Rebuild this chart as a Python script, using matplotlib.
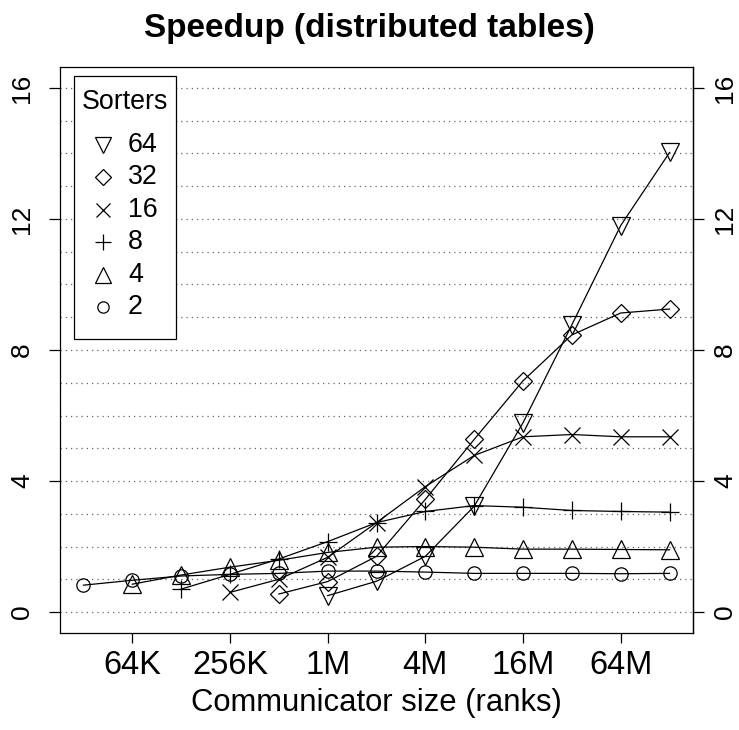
import numpy as np
import matplotlib
matplotlib.use("Agg")
import matplotlib.pyplot as plt
from matplotlib.patches import Rectangle

plt.rcParams['font.family'] = ['Liberation Sans', 'DejaVu Sans']

# Communicator size, log2 of ranks: 32K .. 128M
sizes_log2 = [15, 16, 17, 18, 19, 20, 21, 22, 23, 24, 25, 26, 27]
tick_log2 = [16, 18, 20, 22, 24, 26]
tick_labels = ["64K", "256K", "1M", "4M", "16M", "64M"]
y_ticks = [0, 4, 8, 12, 16]

sorters = [64, 32, 16, 8, 4, 2]
speedup = {
    2:  [0.82, 0.97, 1.10, 1.15, 1.18, 1.25, 1.25, 1.22, 1.18, 1.18, 1.18, 1.17, 1.18],
    4:  [None, 0.85, 1.13, 1.37, 1.58, 1.82, 1.98, 2.00, 1.98, 1.92, 1.92, 1.91, 1.90],
    8:  [None, None, 0.70, 1.15, 1.62, 2.15, 2.73, 3.07, 3.25, 3.20, 3.10, 3.07, 3.05],
    16: [None, None, None, 0.60, 1.00, 1.67, 2.73, 3.83, 4.78, 5.35, 5.42, 5.35, 5.35],
    32: [None, None, None, None, 0.55, 0.93, 1.70, 3.44, 5.27, 7.06, 8.46, 9.13, 9.25],
    64: [None, None, None, None, None, 0.50, 0.94, 1.70, 3.23, 5.78, 8.77, 11.80, 14.03],
}
markers = {64: 'v', 32: 'D', 16: 'x', 8: '+', 4: '^', 2: 'o'}
msizes = {64: 13, 32: 9.2, 16: 12, 8: 13, 4: 13, 2: 9.6}

W, H = 739, 730
AX_L, AX_R, AX_T, AX_B = 60, 693, 67, 633
fig = plt.figure(figsize=(W/100, H/100), dpi=100)
ax = fig.add_axes([AX_L/W, 1-AX_B/H, (AX_R-AX_L)/W, (AX_B-AX_T)/H])

def axfrac(px, py):
    return (px-AX_L)/(AX_R-AX_L), (AX_B-py)/(AX_B-AX_T)

# dotted grid at every integer
for g in range(0, 17):
    ax.axhline(g, color='#666666', lw=0.9, linestyle=(0, (1, 3.2)), zorder=0)

for s in sorters:
    xs = [x for x, v in zip(sizes_log2, speedup[s]) if v is not None]
    ys = [v for v in speedup[s] if v is not None]
    ax.plot(xs, ys, color='black', lw=0.9, zorder=2)
    ax.plot(xs, ys, linestyle='none', marker=markers[s], ms=msizes[s],
            mfc='none', mec='black', mew=0.9, zorder=3)

ax.set_xlim(14.52, 27.48)
ax.set_ylim(-0.64, 16.64)
ax.set_xticks(tick_log2)
ax.set_xticklabels(tick_labels)
ax.set_yticks(y_ticks)
ax.tick_params(axis='x', direction='out', length=7.5, width=0.9, labelsize=23.5, pad=5)
ax.tick_params(axis='y', direction='out', length=8, width=0.9, labelsize=19,
               labelrotation=90, pad=10.5)
for lab in ax.get_yticklabels():
    lab.set_va('center')

sec = ax.secondary_yaxis('right')
sec.set_yticks(y_ticks)
sec.tick_params(axis='y', direction='out', length=8, width=0.9, labelsize=19,
                labelrotation=90, pad=6.5)
for lab in sec.get_yticklabels():
    lab.set_va('center')
sec.spines['right'].set_linewidth(0.9)
for sp in ax.spines.values():
    sp.set_linewidth(0.9)

ax.set_xlabel("Communicator size (ranks)", fontsize=22.3, labelpad=5)
fig.text(0.5, 1-28/H, "Speedup (distributed tables)", ha='center', va='center',
         fontsize=24, fontweight='bold')

# legend (drawn like R's legend box)
x0, y0 = axfrac(74, 339)
x1, y1 = axfrac(176, 76)
ax.add_patch(Rectangle((x0, y0), x1-x0, y1-y0, transform=ax.transAxes,
                       facecolor='white', edgecolor='black', lw=0.9, zorder=5))
tx, ty = axfrac(125, 102)
ax.text(tx, ty, "Sorters", transform=ax.transAxes, ha='center', va='center',
        fontsize=19.3, zorder=6)
for i, s in enumerate(sorters):
    py = 145 + i*32.4
    mx, my = axfrac(103, py)
    lx, _ = axfrac(128, py)
    ax.plot([mx], [my], transform=ax.transAxes, linestyle='none', marker=markers[s],
            ms=msizes[s]*0.85, mfc='none', mec='black', mew=0.9, zorder=6,
            clip_on=False)
    ax.text(lx, my, str(s), transform=ax.transAxes, ha='left', va='center',
            fontsize=19.3, zorder=6)

fig.savefig("out.png", dpi=100)
